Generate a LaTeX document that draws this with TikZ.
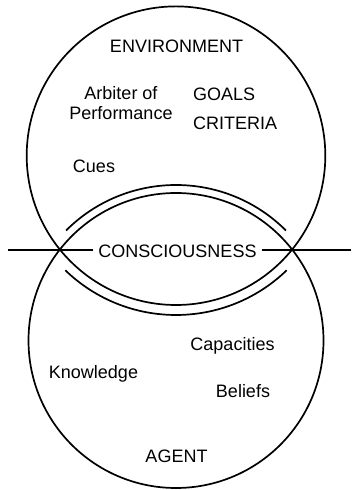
\documentclass[tikz,border=0pt]{standalone}
\usepackage{fontspec}
\setmainfont{Liberation Sans}
\begin{document}
\begin{tikzpicture}[x=1bp,y=1bp,
  lbl/.style={font=\fontsize{18bp}{20bp}\selectfont, inner sep=0pt},
  ring/.style={line width=1.7bp},
  rule/.style={line width=1.5bp}]
\useasboundingbox (0,0) rectangle (351,490);
% circles
\coordinate (ctop) at (176,334.3);
\coordinate (cbot) at (176,149.5);
\draw[ring] (ctop) circle[radius=149.3];
\draw[ring] (cbot) circle[radius=147.5];
% extra parallel arcs
\draw[ring] ([shift={(135:155.5)}]cbot) arc[start angle=135, end angle=45, radius=155.5];
\draw[ring] ([shift={(-134:159.3)}]ctop) arc[start angle=-134, end angle=-46, radius=159.3];
% horizontal rule with label
\node[lbl, anchor=base, inner xsep=5bp] (cons) at (177.5,232) {CONSCIOUSNESS};
\coordinate (L) at (8,240);
\coordinate (R) at (351,240);
\draw[rule] (L) -- (cons.west |- L);
\draw[rule] (cons.east |- R) -- (R);
% labels
\node[lbl, anchor=base] (env) at (176.5,437) {ENVIRONMENT};
\node[lbl, anchor=north, align=center] (arb) at (121,403.5) {Arbiter of\\Performance};
\node[lbl, anchor=base west] (goals) at (193,389) {GOALS};
\node[lbl, anchor=base west] (crit) at (193,360) {CRITERIA};
\node[lbl, anchor=base] (cues) at (94,317) {Cues};
\node[lbl, anchor=base] (cap) at (232.5,139) {Capacities};
\node[lbl, anchor=base] (know) at (93.5,111) {Knowledge};
\node[lbl, anchor=base] (bel) at (243,92) {Beliefs};
\node[lbl, anchor=base] (agent) at (176.5,27) {AGENT};
\end{tikzpicture}
\end{document}
